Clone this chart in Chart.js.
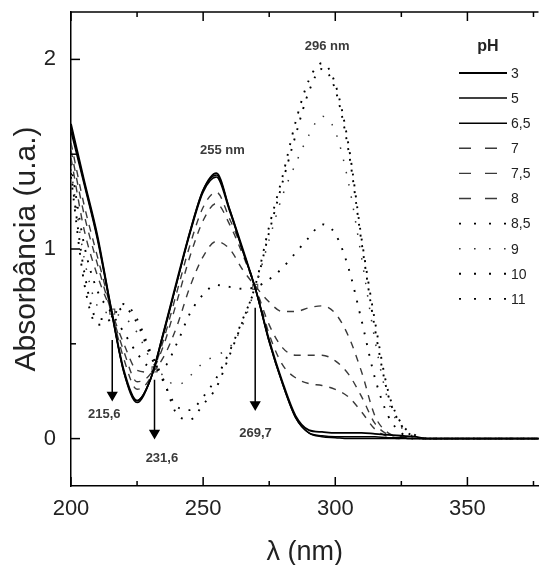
<!DOCTYPE html>
<html>
<head>
<meta charset="utf-8">
<script src="https://cdn.jsdelivr.net/npm/chart.js@4.4.0/dist/chart.umd.min.js"></script>
<style>
  html, body { margin: 0; padding: 0; background: #fff; }
  #wrap { width: 545px; height: 565px; }
</style>
</head>
<body>
<div id="wrap"><canvas id="spectra" width="545" height="565"></canvas></div>
<script>
// comprimentos de onda (nm)
const wavelengths = [200, 205, 210, 215, 220, 225, 230, 235, 240, 245, 250, 255, 260, 265, 270, 275, 280, 285, 290, 295, 300, 305, 310, 315, 320, 325, 330, 335, 340, 345, 350, 355, 360, 365, 370, 375, 380];

const phLabels = ['3', '5', '6,5', '7', '7,5', '8', '8,5', '9', '10', '11'];

// absorbância por pH
const absPh3  = [1.66, 1.36, 1.07, 0.70, 0.36, 0.20, 0.31, 0.56, 0.83, 1.09, 1.31, 1.40, 1.21, 1.00, 0.78, 0.52, 0.30, 0.12, 0.045, 0.035, 0.03, 0.03, 0.03, 0.025, 0.02, 0.015, 0.01, 0, 0, 0, 0, 0, 0, 0, 0, 0, 0];
const absPh5  = [1.64, 1.35, 1.06, 0.70, 0.35, 0.19, 0.31, 0.56, 0.82, 1.09, 1.31, 1.39, 1.21, 0.99, 0.78, 0.51, 0.29, 0.11, 0.03, 0.015, 0.01, 0.01, 0.01, 0.01, 0.005, 0.005, 0, 0, 0, 0, 0, 0, 0, 0, 0, 0, 0];
const absPh65 = [1.62, 1.34, 1.05, 0.69, 0.35, 0.20, 0.31, 0.55, 0.82, 1.08, 1.30, 1.38, 1.20, 0.99, 0.78, 0.51, 0.29, 0.11, 0.03, 0.01, 0.005, 0, 0, 0, 0, 0, 0, 0, 0, 0, 0, 0, 0, 0, 0, 0, 0];
const absPh7  = [1.56, 1.23, 0.96, 0.69, 0.42, 0.26, 0.32, 0.52, 0.77, 1.02, 1.22, 1.30, 1.16, 0.99, 0.79, 0.55, 0.39, 0.32, 0.29, 0.28, 0.26, 0.22, 0.14, 0.05, 0.01, 0, 0, 0, 0, 0, 0, 0, 0, 0, 0, 0, 0];
const absPh75 = [1.52, 1.18, 0.92, 0.68, 0.46, 0.30, 0.34, 0.49, 0.72, 0.96, 1.15, 1.24, 1.13, 0.97, 0.79, 0.60, 0.48, 0.44, 0.44, 0.44, 0.41, 0.34, 0.22, 0.08, 0.02, 0, 0, 0, 0, 0, 0, 0, 0, 0, 0, 0, 0];
const absPh8  = [1.48, 1.10, 0.86, 0.68, 0.50, 0.36, 0.35, 0.43, 0.59, 0.80, 0.96, 1.04, 1.00, 0.89, 0.80, 0.72, 0.67, 0.67, 0.69, 0.70, 0.66, 0.54, 0.35, 0.12, 0.03, 0.01, 0, 0, 0, 0, 0, 0, 0, 0, 0, 0, 0];
const absPh85 = [1.45, 1.02, 0.78, 0.67, 0.56, 0.45, 0.38, 0.38, 0.50, 0.66, 0.76, 0.81, 0.80, 0.79, 0.80, 0.84, 0.90, 0.98, 1.06, 1.13, 1.08, 0.90, 0.62, 0.32, 0.12, 0.03, 0, 0, 0, 0, 0, 0, 0, 0, 0, 0, 0];
const absPh9  = [1.42, 0.95, 0.70, 0.66, 0.64, 0.56, 0.42, 0.33, 0.28, 0.33, 0.40, 0.44, 0.48, 0.60, 0.81, 1.05, 1.28, 1.45, 1.60, 1.70, 1.62, 1.35, 0.95, 0.52, 0.20, 0.06, 0.01, 0, 0, 0, 0, 0, 0, 0, 0, 0, 0];
const absPh10 = [1.40, 0.88, 0.63, 0.64, 0.69, 0.61, 0.44, 0.30, 0.17, 0.15, 0.22, 0.32, 0.46, 0.63, 0.81, 1.09, 1.35, 1.60, 1.83, 1.95, 1.84, 1.52, 1.03, 0.58, 0.23, 0.07, 0.01, 0, 0, 0, 0, 0, 0, 0, 0, 0, 0];
const absPh11 = [1.38, 0.82, 0.60, 0.63, 0.71, 0.63, 0.46, 0.31, 0.13, 0.10, 0.18, 0.27, 0.44, 0.62, 0.82, 1.12, 1.38, 1.67, 1.89, 1.98, 1.87, 1.55, 1.05, 0.62, 0.25, 0.08, 0.02, 0, 0, 0, 0, 0, 0, 0, 0, 0, 0];

// pontos isosbésticos e setas
const isoX = [215.6, 231.6, 269.7];
const isoY = [0.67, 0.365, 0.80];
const isoLabels = ['215,6', '231,6', '269,7'];
const arrowTop = [0.52, 0.31, 0.69];
const arrowEnd = [0.23, 0.03, 0.18];
const isoLabelX = [212.6, 234.4, 269.8];
const isoLabelY = [0.127, -0.103, 0.029];

// rótulos dos máximos
const peakLabels = ['255 nm', '296 nm'];
const peakLabelX = [257.3, 296.9];
const peakLabelY = [1.52, 2.07];

const xTickValues = [200, 225, 250, 275, 300, 325, 350, 375];
const yTickValues = [0, 0.5, 1, 1.5, 2];

const series = [absPh3, absPh5, absPh65, absPh7, absPh75, absPh8, absPh85, absPh9, absPh10, absPh11];

function lineStyle(i) {
    if (i < 3) return { color: '#000', width: i === 0 ? 1.8 : 1.5, dash: [], legendDash: [] };
    if (i < 6) return { color: '#3a3a3a', width: 1.4, dash: [7, 7], legendDash: [12, 14] };
    if (i === 7) return { color: '#333', width: 1.5, dash: [1.5, 11], legendDash: [1.6, 13.4] };
    return { color: '#000', width: 1.9, dash: [1.9, 9], legendDash: [2, 13] };
}

const datasets = series.map((arr, i) => {
    const st = lineStyle(i);
    return {
        label: phLabels[i],
        data: wavelengths.map((w, k) => ({ x: w, y: arr[k] })),
        borderColor: st.color,
        borderWidth: st.width,
        borderDash: st.dash,
        legendDash: st.legendDash,
        pointRadius: 0,
        fill: false,
        cubicInterpolationMode: 'monotone',
        isSpectrum: true
    };
});

// setas
isoX.forEach((v, i) => {
    datasets.push({
        label: 'seta ' + isoLabels[i],
        data: [{ x: v, y: arrowTop[i] }, { x: v, y: arrowEnd[i] }],
        borderColor: '#000',
        borderWidth: 1.5,
        pointRadius: [0, 5],
        pointStyle: 'triangle',
        rotation: 180,
        pointBackgroundColor: '#000',
        pointBorderColor: '#000',
        fill: false
    });
});

// quadradinhos dos pontos isosbésticos
datasets.push({
    type: 'scatter',
    label: 'isosbéstico',
    data: isoX.map((v, i) => ({ x: v, y: isoY[i] })),
    pointStyle: 'rect',
    pointRadius: 3.5,
    borderWidth: 1.2,
    pointBorderColor: '#555',
    pointBackgroundColor: 'rgba(255,255,255,0.7)'
});

const decorations = {
    id: 'decorations',
    afterDraw(chart) {
        const { ctx, chartArea: a, scales: { x, y } } = chart;
        ctx.save();
        ctx.strokeStyle = '#000';
        ctx.lineWidth = 1.5;
        ctx.setLineDash([]);
        ctx.beginPath();
        ctx.moveTo(a.left, a.top);
        ctx.lineTo(a.right, a.top);
        ctx.stroke();

        // ticks para dentro
        xTickValues.forEach(v => {
            const px = x.getPixelForValue(v);
            const len = v % 50 === 0 ? 9 : 5;
            ctx.beginPath();
            ctx.moveTo(px, a.bottom); ctx.lineTo(px, a.bottom - len);
            ctx.moveTo(px, a.top); ctx.lineTo(px, a.top + len);
            ctx.stroke();
        });
        yTickValues.forEach(v => {
            const py = y.getPixelForValue(v);
            const len = Number.isInteger(v) ? 9 : 5;
            ctx.beginPath();
            ctx.moveTo(a.left, py); ctx.lineTo(a.left + len, py);
            ctx.stroke();
        });

        // rótulos
        ctx.fillStyle = '#3a3a3a';
        ctx.textAlign = 'center';
        ctx.textBaseline = 'middle';
        ctx.font = 'bold 13px "Liberation Sans", Arial, sans-serif';
        peakLabels.forEach((t, i) => {
            ctx.fillText(t, x.getPixelForValue(peakLabelX[i]), y.getPixelForValue(peakLabelY[i]));
        });
        isoLabels.forEach((t, i) => {
            ctx.fillText(t, x.getPixelForValue(isoLabelX[i]), y.getPixelForValue(isoLabelY[i]));
        });

        // legenda
        ctx.fillStyle = '#222';
        ctx.font = 'bold 16px "Liberation Sans", Arial, sans-serif';
        ctx.fillText('pH', 488, 47);
        ctx.font = '14px "Liberation Sans", Arial, sans-serif';
        ctx.textAlign = 'left';
        chart.data.datasets.filter(d => d.isSpectrum).forEach((d, i) => {
            const ly = 73 + i * 25.1;
            ctx.strokeStyle = d.borderColor;
            ctx.lineWidth = d.borderWidth;
            ctx.setLineDash(d.legendDash);
            ctx.beginPath();
            ctx.moveTo(459, ly); ctx.lineTo(507, ly);
            ctx.stroke();
            ctx.setLineDash([]);
            ctx.fillText(d.label, 511, ly + 1);
        });
        ctx.restore();
    }
};

new Chart(document.getElementById('spectra'), {
    type: 'line',
    data: { datasets },
    options: {
        responsive: false,
        animation: false,
        devicePixelRatio: 1,
        layout: { padding: { top: 12, right: 0, left: 0, bottom: 0 } },
        plugins: {
            legend: { display: false },
            tooltip: { enabled: false }
        },
        scales: {
            x: {
                type: 'linear',
                min: 200,
                max: 376.9,
                afterFit: s => { s.height = 79; s.paddingLeft = 0; s.paddingRight = 0; },
                afterBuildTicks: s => { s.ticks = [200, 250, 300, 350].map(v => ({ value: v })); },
                grid: { drawOnChartArea: false, drawTicks: false },
                border: { color: '#000', width: 1.5 },
                ticks: {
                    color: '#222',
                    padding: 10,
                    maxRotation: 0,
                    font: { family: '"Liberation Sans", Arial, sans-serif', size: 22 }
                },
                title: {
                    display: true,
                    text: 'λ (nm)',
                    color: '#222',
                    padding: { top: 0, bottom: 0 },
                    font: { family: '"Liberation Sans", Arial, sans-serif', size: 27, lineHeight: 0.9 }
                }
            },
            y: {
                min: -0.25,
                max: 2.25,
                afterFit: s => { s.width = 71; s.paddingTop = 0; s.paddingBottom = 0; },
                afterBuildTicks: s => { s.ticks = [0, 1, 2].map(v => ({ value: v })); },
                grid: { drawOnChartArea: false, drawTicks: false },
                border: { color: '#000', width: 1.5 },
                ticks: {
                    color: '#222',
                    padding: 15,
                    font: { family: '"Liberation Sans", Arial, sans-serif', size: 22 }
                },
                title: {
                    display: true,
                    text: 'Absorbância (u.a.)',
                    color: '#222',
                    padding: { top: 12, bottom: 0 },
                    font: { family: '"Liberation Sans", Arial, sans-serif', size: 30, lineHeight: 1 }
                }
            }
        }
    },
    plugins: [decorations]
});
</script>
</body>
</html>
